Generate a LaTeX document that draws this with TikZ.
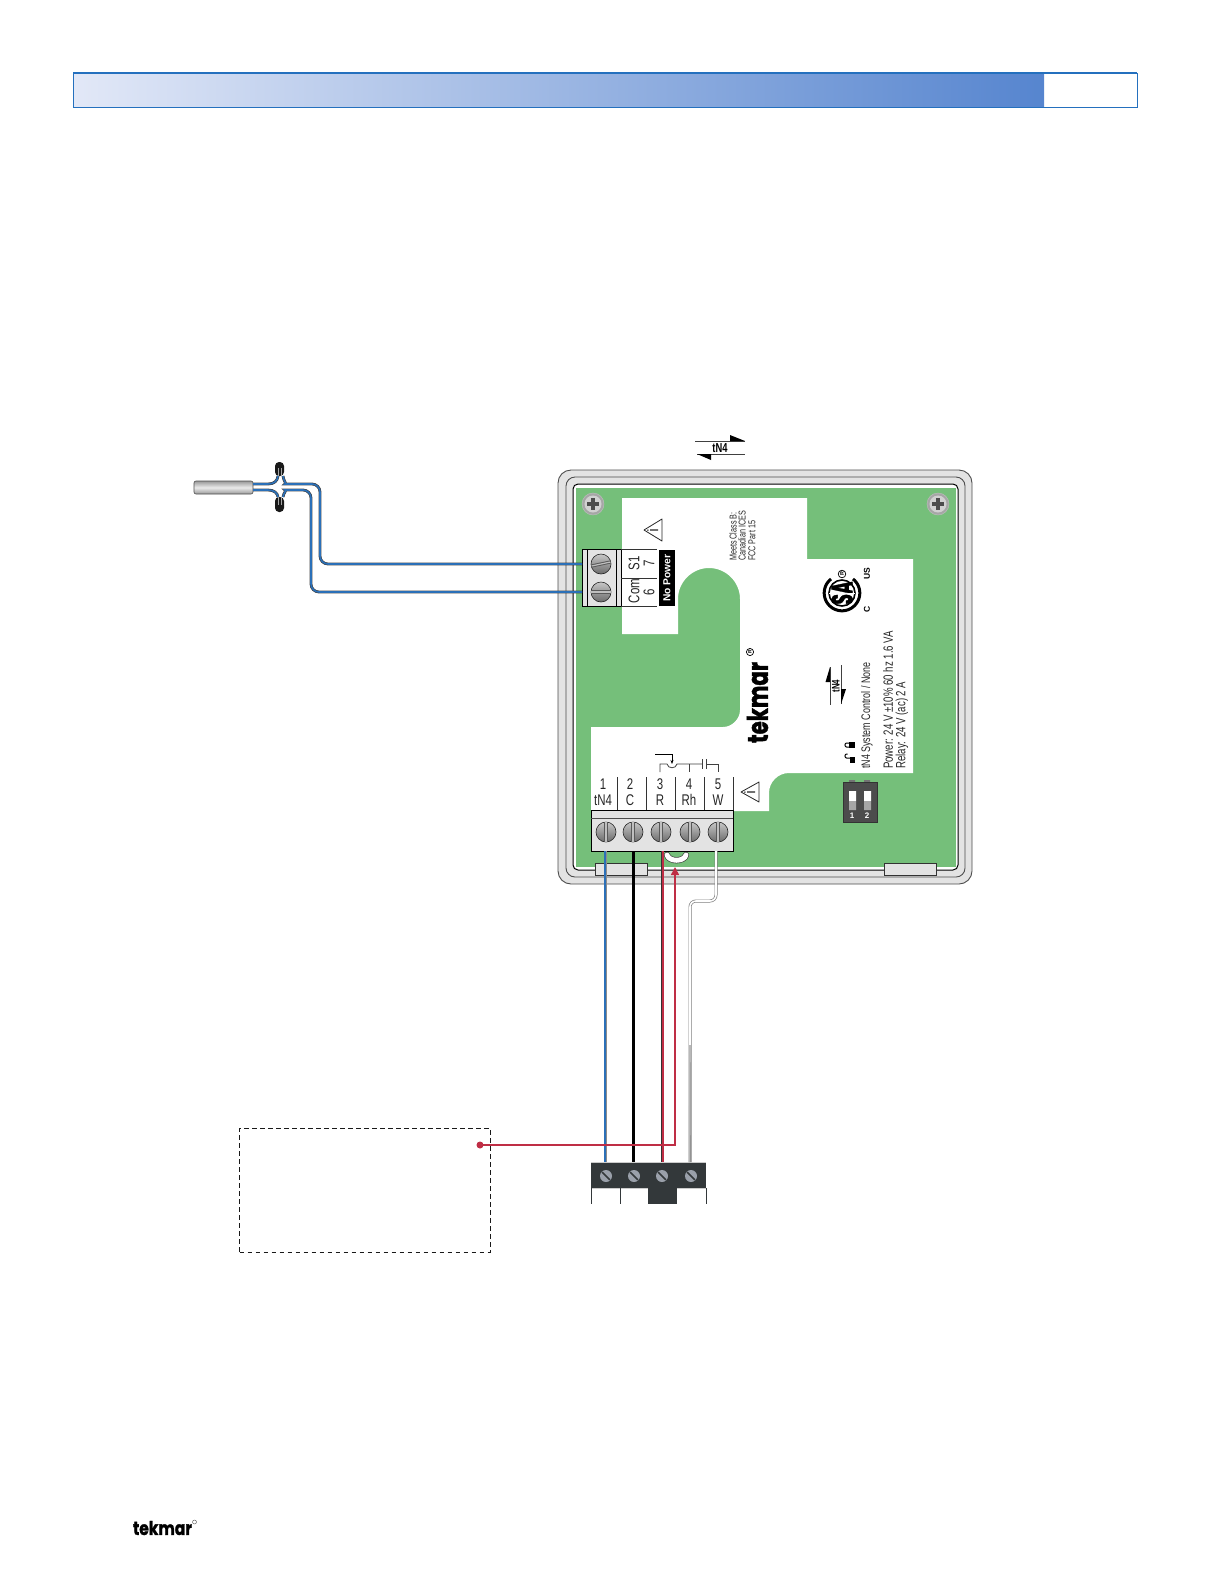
\documentclass[tikz,border=0pt]{standalone}
\usepackage{fontspec}
\setmainfont{Liberation Sans}
\newfontfamily\nar[FakeStretch=0.74]{Liberation Sans}
\newfontfamily\narr[FakeStretch=0.72]{Liberation Sans}
\newfontfamily\logof[FakeBold=1.6]{Poppins}
\usetikzlibrary{arrows.meta}
\definecolor{grn}{HTML}{75BF7A}
\definecolor{casegr}{HTML}{E3E3E3}
\definecolor{hblue}{HTML}{2470BE}
\definecolor{wblue}{HTML}{2B70B8}
\definecolor{wred}{HTML}{BF2E45}
\definecolor{blk}{HTML}{33383A}
\definecolor{HeaderL}{HTML}{E2E8F7}
\definecolor{HeaderR}{HTML}{5685CF}
\definecolor{devscr}{HTML}{9AA0AA}
\tikzset{
  caseline/.style={draw=black!70,line width=0.9pt},
  lab/.style={inner sep=0pt,font=\nar\fontsize{15.5}{16}\selectfont,text=black!85},
  rlab/.style={lab,rotate=90},
  small/.style={inner sep=0pt,rotate=90,anchor=west,font=\narr\fontsize{13.4}{14}\selectfont,text=black!85},
  tiny/.style={inner sep=0pt,rotate=90,anchor=west,font=\narr\fontsize{10}{11}\selectfont,text=black!85},
  thin line/.style={draw=black!80,line width=0.7pt},
  scrwn/.style={circle,inner sep=0pt,draw=black!85,line width=0.6pt,top color=black!22,bottom color=black!58},
  wirebase/.style={line width=2.8pt,draw=black!75},
  wirecore/.style={line width=1.6pt,draw=wblue},
}
\newcommand{\scrw}[5]{% name,x,y,angle,diam
  \node[scrwn,minimum size=#5pt] (#1) at (#2,#3) {};
  \begin{scope}[shift={(#2,#3)},rotate=#4]
    \fill[black!65] (-#5*0.48,-1.6) rectangle (#5*0.48,1.6);
    \fill[black!25] (-#5*0.48,-0.6) rectangle (#5*0.48,0.6);
  \end{scope}}
\newcommand{\cscrew}[3]{% name,x,y
  \node[circle,inner sep=0pt,minimum size=22pt,fill=black!35,draw=black!25] (#1) at (#2,#3) {};
  \fill[black!18] (#2,#3) circle (8.5pt);
  \fill[black!70] (#2-6,#3-2) rectangle (#2+6,#3+2);
  \fill[black!70] (#2-2,#3-6) rectangle (#2+2,#3+6);}
\begin{document}
\begin{tikzpicture}[x=1pt,y=-1pt]
\useasboundingbox (0,0) rectangle (1225,1585);
% header
\shade[left color=HeaderL,right color=HeaderR] (73,73) rectangle (1044,107);
\draw[hblue,line width=1pt] (73,73) rectangle (1137,107);
\draw[hblue,line width=1.6pt] (73,73) -- (1137,73);
% case
\draw[caseline,fill=casegr,rounded corners=13pt] (558,470) rectangle (972,884);
\draw[caseline,rounded corners=9pt] (566,477) rectangle (965,877);
\draw[draw=black,line width=1pt,fill=white,rounded corners=5pt] (573,484) rectangle (958,870);
\fill[grn] (576,488) rectangle (956,867);
% white label
\fill[white] (622,498) -- (807,498) -- (807,559) -- (913,559) -- (913,773) -- (789,773)
  .. controls (778,773) and (769,782) .. (769,793) -- (769,811) -- (591,811) -- (591,727) -- (723,727)
  .. controls (732,727) and (740,719) .. (740,710) -- (740,599)
  .. controls (740,582) and (726,568) .. (709,568) .. controls (692,568) and (678,582) .. (678,599)
  -- (678,634) -- (622,634) -- cycle;
% corner screws
\cscrew{csl}{593}{504}
\cscrew{csr}{938}{504}
% bottom tabs
\draw[draw=black!80,line width=0.7pt,fill=casegr] (595,863) rectangle (647,875);
\draw[draw=black!80,line width=0.7pt,fill=casegr] (884,863) rectangle (936,875);
% tN4 symbol top
\draw[black!75,line width=1pt] (695,441) -- (745,441);
\fill[black] (730,435) -- (745,441) -- (730,441) -- cycle;
\draw[black!75,line width=1pt] (697,454) -- (745,454);
\fill[black] (697,454) -- (711,454) -- (711,460) -- cycle;
\node[inner sep=0pt,font=\narr\bfseries\fontsize{13}{13}\selectfont] (tnt) at (720,448) {tN4};
% sensor terminal
\draw[draw=black,line width=0.8pt,fill=casegr] (582,549) rectangle (621,606);
\draw[draw=black,line width=0.7pt] (587,549) -- (587,606) (616,549) -- (616,606);
\scrw{sTop}{601}{564}{12}{20}
\scrw{sBot}{601}{592}{0}{20}
\draw[thin line] (621,549) -- (657,549) (621,578) -- (657,578) (621,606) -- (657,606);
\node[rlab] (ls1) at (634,563) {S1};
\node[rlab] (l7) at (649,563) {7};
\node[rlab] (lcom) at (634,591) {Com};
\node[rlab] (l6) at (649,592) {6};
\node[fill=black,text=white,rotate=90,inner sep=0pt,minimum width=56pt,minimum height=16pt,font=\bfseries\fontsize{10.2}{12}\selectfont] (nopow) at (667,578) {No Power};
% warn 1
\draw[black!85,line width=0.8pt,line join=round] (644,530) -- (662,519) -- (662,541) -- cycle;
\fill[black!85] (650,529.3) rectangle (658,530.7) (647,529.5) rectangle (648.5,530.5);
% meets text
\node[tiny] (m1) at (733,561) {Meets Class B:};
\node[tiny] (m2) at (742,561) {Canadian ICES};
\node[tiny] (m3) at (752,561) {FCC Part 15};
% CSA
\draw[black,line width=3pt] plot[domain=-52:232,samples=50] ({842+17.8*cos(\x)},{593+17.8*sin(\x)});
\draw[black,line width=1.6pt] (842,593) circle (13pt);
\node[rotate=90,inner sep=0pt] (csa) at (842,593) {\resizebox{23pt}{21pt}{\logof\bfseries SA}};
\draw[white,line width=0.9pt] (829,593) -- (855,593);
\draw[black,line width=0.7pt] (842,574) circle (3.8pt);
\node[inner sep=0pt,font=\bfseries\fontsize{5.5}{6}\selectfont,rotate=90] (csar) at (842,574) {R};
\node[rotate=90,inner sep=0pt,font=\bfseries\fontsize{8.5}{9}\selectfont] (csaus) at (867,574) {US};
\node[rotate=90,inner sep=0pt,font=\bfseries\fontsize{8.5}{9}\selectfont] (csac) at (867,609) {C};
% tekmar
\node[rotate=90,inner sep=0pt] (logo) at (757.5,702.5) {\resizebox{81pt}{21pt}{\logof\bfseries tekmar}};
\draw[black,line width=0.7pt] (750,652) circle (3.6pt);
\node[inner sep=0pt,rotate=90,font=\bfseries\fontsize{5}{5}\selectfont] (logor) at (750,652) {R};
% right tN4
\draw[black!75,line width=1pt] (830,667) -- (830,705);
\fill[black] (830,667) -- (830,682) -- (825.5,682) -- cycle;
\draw[black!75,line width=1pt] (841,665) -- (841,704);
\fill[black] (841,704) -- (841,689) -- (846,689) -- cycle;
\node[rotate=90,inner sep=0pt,font=\narr\bfseries\fontsize{11}{11}\selectfont] (tnr) at (836,686) {tN4};
% side text
\node[tiny,font=\narr\fontsize{12.4}{13}\selectfont] (t1) at (867,769) {tN4 System Control / None};
\node[small] (t2) at (888,769) {Power: 24 V ±10\% 60 hz 1.6 VA};
\node[small] (t3) at (902,769) {Relay:  24 V (ac) 2 A};
% locks
\fill[black] (849,742) rectangle (855,748);
\draw[black,line width=1pt] (849,743) -- (846.5,743) .. controls (844.5,743) and (844.5,747) .. (846.5,747) -- (849,747);
\fill[black] (850,757) rectangle (855,763);
\draw[black,line width=1pt] (850,758) -- (846.5,758) .. controls (844.5,758) and (844.5,754) .. (846.5,754) -- (847.5,754);
% DIP
\fill[black!55] (849,780) rectangle (855,782) (864,780) rectangle (870,782);
\draw[black!80,fill=black!70,line width=0.5pt] (843,782) rectangle (877,822);
\fill[white] (849,791) rectangle (856,801) (864,791) rectangle (871,801);
\fill[black!35] (849,801) rectangle (856,810) (864,801) rectangle (871,810);
\node[text=white,inner sep=0pt,font=\bfseries\fontsize{8}{8}\selectfont] (d1) at (852,816) {1};
\node[text=white,inner sep=0pt,font=\bfseries\fontsize{8}{8}\selectfont] (d2) at (867,816) {2};
% bottom terminal
\draw[draw=black,line width=0.8pt,fill=casegr] (591,810) rectangle (733,851);
\draw[draw=black!70,line width=0.5pt] (591,818) -- (733,818);
\scrw{tb1}{606}{832}{90}{20}
\scrw{tb2}{633}{832}{90}{20}
\scrw{tb3}{661}{832}{90}{20}
\scrw{tb4}{690}{832}{90}{20}
\scrw{tb5}{718}{832}{90}{20}
\draw[thin line] (617,777) -- (617,810) (646,777) -- (646,810) (675,777) -- (675,810) (704,777) -- (704,810) (733,777) -- (733,810);
\node[lab] (n1) at (603,784) {1};
\node[lab] (n2) at (630,784) {2};
\node[lab] (n3) at (660,784) {3};
\node[lab] (n4) at (689,784) {4};
\node[lab] (n5) at (718,784) {5};
\node[lab] (w1) at (603,800) {tN4};
\node[lab] (w2) at (630,800) {C};
\node[lab] (w3) at (660,800) {R};
\node[lab] (w4) at (689,800) {Rh};
\node[lab] (w5) at (718,800) {W};
% relay symbol
\draw[black,line width=0.7pt,-{Stealth[length=4pt,width=3pt]}] (655,754) -- (672,754) -- (672,764);
\draw[black!75,line width=0.8pt] (660,772) -- (660,764) -- (667,764) .. controls (668,769) and (676,769) .. (677,764) -- (702,764);
\draw[black!75,line width=0.8pt] (689,764) -- (689,772);
\draw[black!75,line width=0.8pt] (702,759) -- (702,769) (706,759) -- (706,769);
\draw[black!75,line width=0.8pt] (706,764) -- (718,764) -- (718,772);
% warn 2
\draw[black!85,line width=0.8pt,line join=round] (741,792) -- (759,782) -- (759,802) -- cycle;
\fill[black!85] (747,791.3) rectangle (755,792.7) (744,791.5) rectangle (745.5,792.5);
% notch
\draw[black!80,line width=6.2pt,line cap=round] (667,855) .. controls (669,862) and (684,862) .. (686,855);
\draw[white,line width=5pt,line cap=round] (667,855) .. controls (669,862) and (684,862) .. (686,855);
% device terminal
\fill[blk] (591,1162) rectangle (706,1188);
\fill[blk] (648,1188) rectangle (677,1204);
\draw[black!20,line width=0.8pt] (591,1162) -- (706,1162);
\draw[black!20,line width=0.8pt] (591,1188) -- (648,1188) (677,1188) -- (706,1188);
\draw[blk,line width=0.8pt] (591,1188) -- (591,1204) (620,1188) -- (620,1204) (706,1188) -- (706,1204);
\foreach \nm/\sx in {d1s/606,d2s/634,d3s/662,d4s/691}{
  \node[circle,inner sep=0pt,minimum size=12pt,fill=devscr] (\nm) at (\sx,1176) {};
  \begin{scope}[shift={(\sx,1176)},rotate=-45]
    \fill[blk] (-5.5,-0.8) rectangle (5.5,0.8);
  \end{scope}
}
% sensor
\node[inner sep=0pt,minimum width=59pt,minimum height=13pt,rounded corners=2pt,draw=black!70,line width=0.6pt,top color=black!40,bottom color=black!40,middle color=black!8] (sensor) at (223.5,487.5) {};
\coordinate (sa) at (253,484);
\coordinate (sb) at (253,490);
\coordinate (sensA) at (278,476);
\coordinate (sensB) at (283,476);
\coordinate (sensC) at (278,497);
\coordinate (sensD) at (283,497);
\coordinate (tA) at (582,564);
\coordinate (tB) at (582,592);
\foreach \stl in {wirebase,wirecore}{
  \draw[\stl] (sa) -- (268,484) .. controls (274,484) and (277.5,481) .. (sensA);
  \draw[\stl] (sb) -- (268,490) .. controls (274,490) and (277.5,493) .. (sensC);
  \draw[\stl,rounded corners=8pt] (sensB) .. controls (283.5,481) and (287,484) .. (293,484) -- (320,484) -- (320,564) -- (tA);
  \draw[\stl,rounded corners=8pt] (sensD) .. controls (283.5,493) and (287,490) .. (293,490) -- (311,490) -- (311,592) -- (tB);
}
\fill[black!90,rounded corners=4pt] (275,462) rectangle (284,476);
\fill[black!90,rounded corners=4pt] (275,497) rectangle (284,512);
\draw[black!35,line width=0.6pt] (278.2,468) -- (278.2,476) (281,468) -- (281,476) (278.2,497) -- (278.2,505) (281,497) -- (281,505);
% wires down
\coordinate (b1) at (605,851);
\coordinate (b2) at (633,851);
\coordinate (b3) at (662,851);
\coordinate (b5) at (716,851);
\coordinate (c1) at (605,1162);
\coordinate (c2) at (633,1162);
\coordinate (c3) at (662,1162);
\coordinate (c4) at (690,1162);
\draw[black!45,line width=3pt] (b1) -- (c1);
\draw[wblue,line width=2pt] ([xshift=0.4pt]b1) -- ([xshift=0.4pt]c1);
\draw[black,line width=3pt] (b2) -- (c2);
\draw[black!80,line width=3pt] (b3) -- (c3);
\draw[wred,line width=2.2pt] ([xshift=0.6pt]b3) -- ([xshift=0.6pt]c3);
\draw[black!50,line width=3pt,rounded corners=6pt] (b5) -- (716,901) -- (690,901) -- (c4);
\draw[white,line width=1.6pt,rounded corners=6pt] (b5) -- (716,901) -- (690,901) -- (690,1045);
\draw[black!28,line width=1.6pt] (690,1045) -- (689.6,1162);
% dashed box
\node[draw=black!90,line width=0.9pt,dash pattern=on 4.5pt off 3.5pt,inner sep=0pt,minimum width=250.5pt,minimum height=124pt] (box) at (364.75,1190) {};
\node[circle,fill=wred,inner sep=0pt,minimum size=7pt] (dot) at (480,1145) {};
\coordinate (tip) at (675,867);
\draw[wred,line width=1.6pt,-{Triangle[length=8pt,width=8pt]}] (dot.center) -- (675,1145) -- (tip);
% footer logo
\node[inner sep=0pt] (flogo) at (162.5,1528) {\resizebox{59pt}{14pt}{\logof\bfseries tekmar}};
\draw[black!70,line width=0.4pt] (194.5,1522) circle (2pt);
\end{tikzpicture}
\end{document}
